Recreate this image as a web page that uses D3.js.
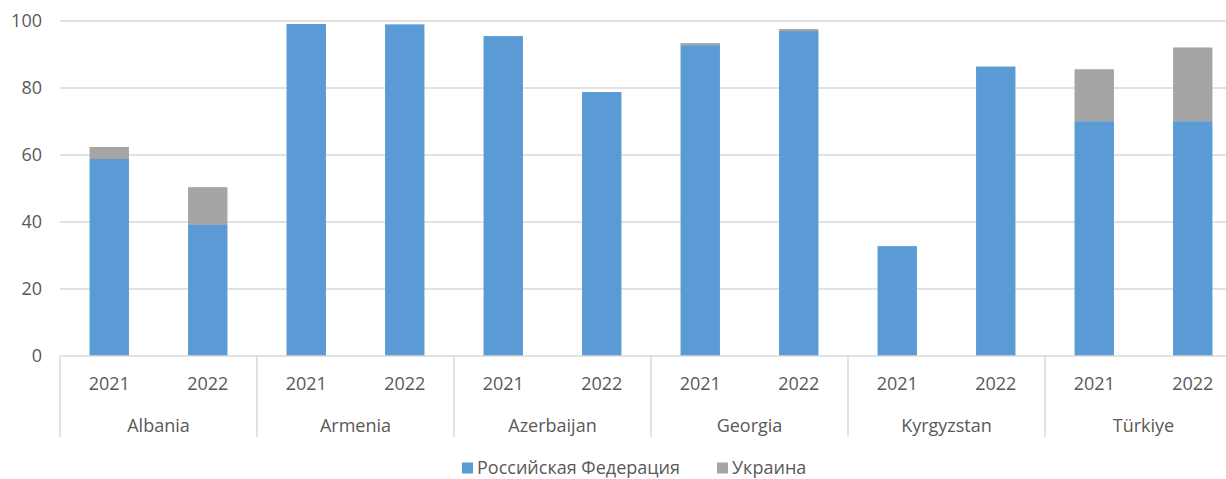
<!DOCTYPE html>
<meta charset="utf-8">
<style>
  body { margin: 0; background: #fff; }
  text { font-family: "Open Sans", "Noto Sans", sans-serif; fill: #595959; }
</style>
<body>
<script src="https://cdn.jsdelivr.net/npm/d3@7/dist/d3.min.js"></script>
<script>

    var width = 1226,
        height = 479;

    // data
    var countries = ["Albania", "Armenia", "Azerbaijan", "Georgia", "Kyrgyzstan", "Türkiye"];
    var years = ["2021", "2022"];
    var russia  = [58.8, 39.1, 99.1, 99.0, 95.5, 78.8, 92.8, 97.0, 32.8, 86.4, 70.1, 70.1];
    var ukraine = [3.6, 11.3, 0, 0, 0, 0, 0.6, 0.6, 0, 0, 15.5, 22.0];
    var seriesNames = ["Российская Федерация", "Украина"];
    var colors = ["#5b9bd5", "#a5a5a5"];
    var yTicks = [0, 20, 40, 60, 80, 100];

    var plotLeft = 60, plotRight = 1242, plotTop = 21, plotBottom = 356;

    var svg = d3.select("body").append("svg")
            .attr("width", width)
            .attr("height", height);

    var x0 = d3.scaleBand().domain(countries).range([plotLeft, plotRight]);
    var x1 = d3.scaleBand().domain(years).range([0, x0.bandwidth()])
            .paddingInner(0.6).paddingOuter(0.3);
    var y = d3.scaleLinear().domain([0, 100]).range([plotBottom, plotTop]);

    // grid
    svg.append("g").selectAll("line")
            .data(yTicks.slice(1))
            .enter().append("line")
            .attr("x1", plotLeft).attr("x2", plotRight)
            .attr("y1", function(d) { return y(d); })
            .attr("y2", function(d) { return y(d); })
            .attr("stroke", "#d9d9d9")
            .attr("stroke-width", 1.5);

    // y labels
    svg.append("g").selectAll("text")
            .data(yTicks)
            .enter().append("text")
            .attr("x", 42)
            .attr("y", function(d) { return y(d); })
            .attr("dy", "0.36em")
            .attr("text-anchor", "end")
            .attr("font-size", 18)
            .text(function(d) { return d; });

    // rows for stacking
    var rows = [];
    countries.forEach(function(c, i) {
        years.forEach(function(yr, j) {
            var k = i * 2 + j;
            rows.push({country: c, year: yr, s0: russia[k], s1: ukraine[k]});
        });
    });
    var layers = d3.stack().keys(["s0", "s1"])(rows);

    svg.append("g").selectAll("g")
            .data(layers)
            .enter().append("g")
            .attr("fill", function(d, i) { return colors[i]; })
            .selectAll("rect")
            .data(function(d) { return d.filter(function(p) { return p[1] - p[0] > 0; }); })
            .enter().append("rect")
            .attr("x", function(d) { return x0(d.data.country) + x1(d.data.year); })
            .attr("width", x1.bandwidth())
            .attr("y", function(d) { return y(d[1]); })
            .attr("height", function(d) { return y(d[0]) - y(d[1]); });

    // baseline + dividers
    svg.append("line")
            .attr("x1", plotLeft).attr("x2", plotRight)
            .attr("y1", plotBottom).attr("y2", plotBottom)
            .attr("stroke", "#d9d9d9").attr("stroke-width", 1.5);

    var divs = countries.map(function(c) { return x0(c); });
    divs.push(plotRight);
    svg.append("g").selectAll("line")
            .data(divs)
            .enter().append("line")
            .attr("x1", function(d) { return d; }).attr("x2", function(d) { return d; })
            .attr("y1", plotBottom).attr("y2", 437)
            .attr("stroke", "#d9d9d9").attr("stroke-width", 1.5);

    // year labels
    svg.append("g").selectAll("text")
            .data(rows)
            .enter().append("text")
            .attr("x", function(d) { return x0(d.country) + x1(d.year) + x1.bandwidth() / 2; })
            .attr("y", 390)
            .attr("text-anchor", "middle")
            .attr("font-size", 18)
            .text(function(d) { return d.year; });

    // country labels
    svg.append("g").selectAll("text")
            .data(countries)
            .enter().append("text")
            .attr("x", function(d) { return x0(d) + x0.bandwidth() / 2; })
            .attr("y", 432)
            .attr("text-anchor", "middle")
            .attr("font-size", 18)
            .text(function(d) { return d; });

    // legend
    var legendX = [462, 717];
    var lg = svg.append("g").selectAll("g")
            .data(seriesNames)
            .enter().append("g")
            .attr("transform", function(d, i) { return "translate(" + legendX[i] + ",468)"; });
    lg.append("rect")
            .attr("x", 0).attr("y", -5.5)
            .attr("width", 11).attr("height", 11)
            .attr("fill", function(d, i) { return colors[i]; });
    lg.append("text")
            .attr("x", 15).attr("dy", "0.36em")
            .attr("font-size", 18)
            .text(function(d) { return d; });

</script>
